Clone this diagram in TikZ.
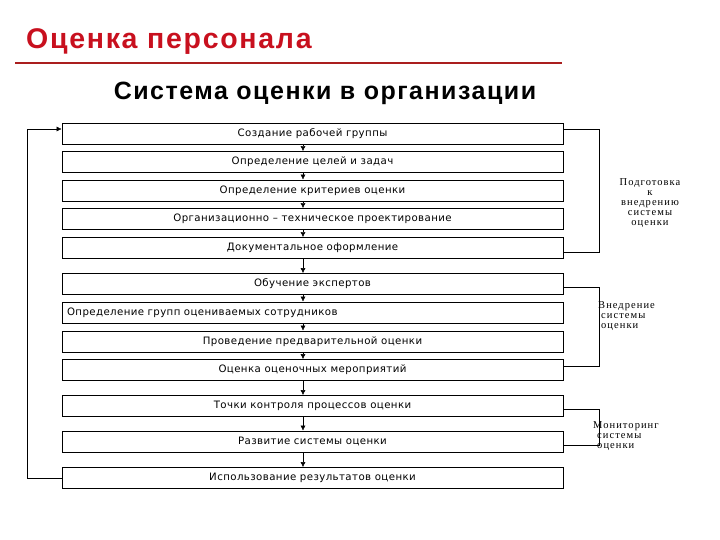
\documentclass[tikz,border=0pt]{standalone}
\usepackage{fontspec}
\setmainfont{Liberation Sans}
\newfontfamily\headfont[LetterSpace=6]{Liberation Sans}
\newfontfamily\boxfont[LetterSpace=4]{DejaVu Sans}
\newfontfamily\notefont[LetterSpace=10]{Liberation Serif}
\usetikzlibrary{arrows.meta}
\definecolor{titlered}{RGB}{200,16,30}
\definecolor{linered}{RGB}{170,30,30}
\begin{document}
\begin{tikzpicture}[x=1pt,y=-1pt,
  stage/.style={draw=black, thick, minimum width=501pt, minimum height=21pt, inner sep=0pt, font=\boxfont\fontsize{10.2}{11}\selectfont},
  flow/.style={-{Latex[length=5pt,width=5pt]}, thin},
  brace/.style={thin},
  note/.style={font=\notefont\fontsize{10.5}{10}\selectfont, inner sep=0pt}]
\useasboundingbox (0,0) rectangle (720,540);
\node [font=\headfont\bfseries\fontsize{28.5}{30}\selectfont, text=titlered, anchor=west, inner sep=0pt] (title) at (26,42) {Оценка персонала};
\draw [linered, line width=1.6pt] (15,63) -- (562,63);
\node [font=\headfont\bfseries\fontsize{25}{28}\selectfont, inner sep=0pt] (subtitle) at (325,93) {Система оценки в организации};
% stages
\node [stage] (b1) at (312.5,133.5) {Создание рабочей группы};
\node [stage] (b2) at (312.5,162) {Определение целей и задач};
\node [stage] (b3) at (312.5,190.5) {Определение критериев оценки};
\node [stage] (b4) at (312.5,219) {Организационно – техническое проектирование};
\node [stage] (b5) at (312.5,248) {Документальное оформление};
\node [stage] (b6) at (312.5,284) {Обучение экспертов};
\node [stage, text width=491pt, align=left] (b7) at (312.5,312.5) {Определение групп оцениваемых сотрудников};
\node [stage] (b8) at (312.5,341.5) {Проведение предварительной оценки};
\node [stage] (b9) at (312.5,370) {Оценка оценочных мероприятий};
\node [stage] (b10) at (312.5,406) {Точки контроля процессов оценки};
\node [stage] (b11) at (312.5,441.5) {Развитие системы оценки};
\node [stage] (b12) at (312.5,478) {Использование результатов оценки};
% arrows between stages
\foreach \a/\b in {b1/b2,b2/b3,b3/b4,b4/b5,b5/b6,b6/b7,b7/b8,b8/b9,b9/b10,b10/b11,b11/b12}
  \draw [flow] ([xshift=-9.5pt]\a.south) -- ([xshift=-9.5pt]\b.north);
% feedback
\draw [flow] (b12.west) -- ++(-34,0) |- ([yshift=4.5pt]b1.west);
% brackets
\draw [brace] ([yshift=4.5pt]b1.east) -- ++(36,0) |- ([yshift=-4pt]b5.east);
\draw [brace] ([yshift=-3pt]b6.east) -- ++(36,0) |- ([yshift=4pt]b9.east);
\draw [brace] ([yshift=-3pt]b10.east) -- ++(36,0) |- ([yshift=-3.5pt]b11.east);
\node [note, align=center] (n1) at (650,203) {Подготовка\\к\\внедрению\\системы\\оценки};
\node [note, align=left, anchor=west] (n2) at (598,316) {Внедрение\\\hspace*{3pt}системы\\\hspace*{3pt}оценки};
\node [note, align=left, anchor=west] (n3) at (593,436) {Мониторинг\\\hspace*{4pt}системы\\\hspace*{4pt}оценки};
\end{tikzpicture}
\end{document}
